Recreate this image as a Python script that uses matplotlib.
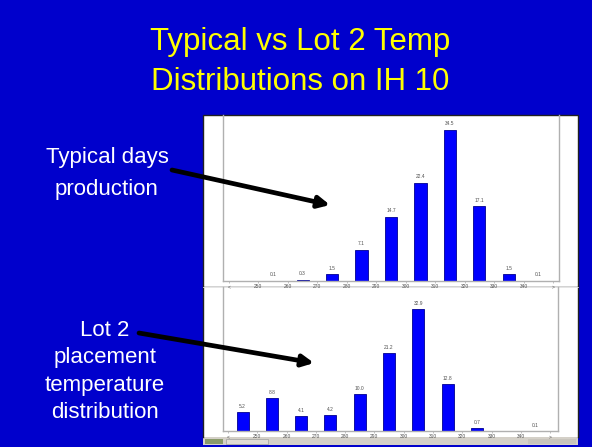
import matplotlib
matplotlib.use("Agg")
import matplotlib.pyplot as plt
from matplotlib.patches import Rectangle

plt.rcParams['font.family'] = ['Liberation Sans', 'DejaVu Sans']

# bins of 10 degrees, ticks sit on the bin edges
tick_labels = ['<', '250', '260', '270', '280', '290', '300', '310', '320', '330', '340', '>']
typical = [0, 0.1, 0.3, 1.5, 7.1, 14.7, 22.4, 34.5, 17.1, 1.5, 0.1]
lot2 = [5.2, 8.8, 4.1, 4.2, 10.0, 21.2, 32.9, 12.8, 0.7, 0, 0.1]

W, H = 592, 447
fig = plt.figure(figsize=(W / 100, H / 100), dpi=100)
fig.patch.set_facecolor('#0000CC')

# background layer in pixel coordinates
bg = fig.add_axes([0, 0, 1, 1])
bg.set_xlim(0, W)
bg.set_ylim(H, 0)
bg.axis('off')
bg.set_zorder(0)

# the two pasted screenshots + taskbar
bg.add_patch(Rectangle((203, 115), 375, 172, fc='white', ec='#202020', lw=1))
bg.add_patch(Rectangle((203, 287), 375, 150, fc='white', ec='none'))
bg.plot([203, 203], [287, 437], color='#202020', lw=1)
bg.plot([578, 578], [287, 437], color='#202020', lw=1)
bg.plot([203, 578], [287, 287], color='#E0E0E0', lw=0.6)
bg.add_patch(Rectangle((203, 437), 375, 8, fc='#D4D0C8', ec='none'))
bg.add_patch(Rectangle((205, 438.5), 18, 5, fc='#8A9A6A', ec='none'))
bg.add_patch(Rectangle((226, 438.5), 42, 5, fc='#E0DCD4', ec='#909090', lw=0.4))
bg.add_patch(Rectangle((528, 438.5), 48, 5, fc='#C8C4BC', ec='none'))

bg.text(300, 42, 'Typical vs Lot 2 Temp', color='#FFFF00', fontsize=22.5,
        ha='center', va='center')
bg.text(300, 82, 'Distributions on IH 10', color='#FFFF00', fontsize=22.5,
        ha='center', va='center')

bg.text(107, 158, 'Typical days', color='white', fontsize=16, ha='center', va='center')
bg.text(107, 190, 'production', color='white', fontsize=16, ha='center', va='center')
for txt, y in [('Lot 2', 331), ('placement', 358), ('temperature', 386),
               ('distribution', 413)]:
    bg.text(105, y, txt, color='white', fontsize=16, ha='center', va='center')

arrow = dict(arrowstyle='-|>', color='black', lw=3.4, mutation_scale=17,
             shrinkA=0, shrinkB=0)


def px(x0, y0, x1, y1):
    return [x0 / W, 1 - y1 / H, (x1 - x0) / W, (y1 - y0) / H]


def draw_hist(rect, values, xlim, ylim):
    ax = fig.add_axes(rect)
    ax.set_zorder(1)
    ax.patch.set_alpha(0)
    centers = [i + 0.5 for i in range(len(values))]
    ax.bar(centers, values, width=0.41, color='#0000FF', edgecolor='#000090', lw=0.6)
    for c, v in zip(centers, values):
        if v > 0:
            ax.text(c, v + 0.8, f'{v:.1f}', fontsize=3.5, color='#505050',
                    ha='center', va='bottom')
    ax.set_xlim(*xlim)
    ax.set_ylim(0, ylim)
    ax.set_xticks(range(len(tick_labels)))
    ax.set_xticklabels(tick_labels, fontsize=3.5, color='#505050')
    ax.tick_params(axis='x', length=1.5, width=0.4, color='#909090', pad=1)
    ax.set_yticks([])
    ax.spines['top'].set_visible(False)
    for s in ['left', 'right', 'bottom']:
        ax.spines[s].set_color('#B0B0B0')
        ax.spines[s].set_linewidth(1.0)
    return ax


draw_hist(px(223, 115, 559, 281), typical, (-0.2, 11.2), 37.9)
draw_hist(px(223, 287, 558, 431), lot2, (-0.17, 11.27), 38.9)

# arrows on top of everything
top = fig.add_axes([0, 0, 1, 1])
top.set_xlim(0, W)
top.set_ylim(H, 0)
top.axis('off')
top.patch.set_alpha(0)
top.set_zorder(2)
top.annotate('', xy=(330, 205), xytext=(172, 170), arrowprops=arrow)
top.annotate('', xy=(314, 363), xytext=(139, 333), arrowprops=arrow)

fig.savefig('out.png', dpi=100, facecolor=fig.get_facecolor())
